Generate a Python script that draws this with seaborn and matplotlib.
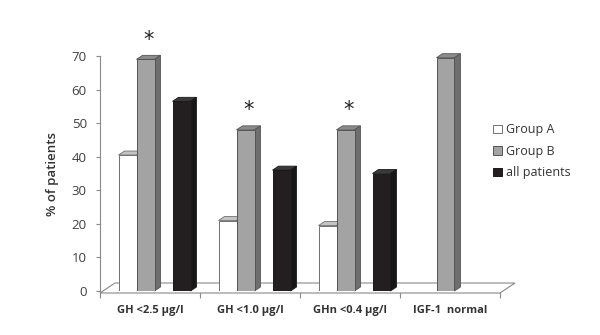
import numpy as np
import pandas as pd
import matplotlib
matplotlib.use("Agg")
import matplotlib.pyplot as plt
import seaborn as sns
from matplotlib.patches import Polygon, Patch

# ---------------- data ----------------
categories = ["GH <2.5 µg/l", "GH <1.0 µg/l", "GHn <0.4 µg/l", "IGF-1  normal"]
group_a = [40.5, 21.0, 19.5, np.nan]
group_b = [69.0, 48.0, 48.0, 69.5]
all_patients = [56.5, 36.0, 35.0, np.nan]
significant = [True, True, True, False]
series_names = ["Group A", "Group B", "all patients"]
y_ticks = [0, 10, 20, 30, 40, 50, 60, 70]

# ---------------- style ----------------
sns.set_theme(style="white")
plt.rcParams["font.family"] = ["Open Sans", "DejaVu Sans"]

front = {"Group A": "#ffffff", "Group B": "#a3a3a3", "_gap": "#ffffff", "all patients": "#231f20"}
top_c = {"Group A": "#c4c4c4", "Group B": "#8c8c8c", "all patients": "#3a3a3a"}
side_c = {"Group A": "#a8a8a8", "Group B": "#6e6e6e", "all patients": "#161616"}
edge_c = {"Group A": "#707070", "Group B": "#555555", "all patients": "#1a1a1a"}
hue_order = ["Group A", "Group B", "_gap", "all patients"]

rows = []
for i, cat in enumerate(categories):
    for name, vals in zip(series_names, [group_a, group_b, all_patients]):
        rows.append({"category": cat, "idx": i, "series": name, "value": vals[i]})
df = pd.DataFrame(rows)
shift = 0.045
df["pos"] = df["idx"] + shift
df = df.dropna(subset=["value"])

fig = plt.figure(figsize=(6.0, 3.35), dpi=100)
ax = fig.add_axes([100 / 600, 1 - 291 / 335, 400 / 600, 235 / 335])

sns.barplot(data=df, x="pos", y="value", hue="series", hue_order=hue_order,
            palette=front, native_scale=True, width=0.72, dodge=True,
            legend=False, ax=ax, linewidth=0.7, edgecolor="#555555", saturation=1)

ax.set_xlim(-0.5, 3.5)
ax.set_ylim(0, 70)

# pixel -> data conversions
px_x = 4.0 / 400
px_y = 70.0 / 235
dx, dy = 6 * px_x, 4 * px_y

bars = list(ax.patches)
zbase = {"Group A": 2, "Group B": 3, "all patients": 4}
b_centers = {}
for p in bars:
    fc = matplotlib.colors.to_hex(p.get_facecolor())
    name = None
    for n in series_names:
        if matplotlib.colors.to_hex(front[n]) == fc:
            name = n
    if name is None or p.get_height() <= 0:
        continue
    x0, w, h = p.get_x(), p.get_width(), p.get_height()
    z = zbase[name]
    p.set_zorder(z)
    p.set_edgecolor(edge_c[name])
    topf = Polygon([(x0, h), (x0 + dx, h + dy), (x0 + w + dx, h + dy), (x0 + w, h)],
                   closed=True, facecolor=top_c[name], edgecolor=edge_c[name],
                   linewidth=0.6, zorder=z - 0.5, clip_on=False)
    sidef = Polygon([(x0 + w, 0), (x0 + w, h), (x0 + w + dx, h + dy), (x0 + w + dx, dy)],
                    closed=True, facecolor=side_c[name], edgecolor=edge_c[name],
                    linewidth=0.6, zorder=z - 0.5, clip_on=False)
    ax.add_patch(topf)
    ax.add_patch(sidef)
    if name == "Group B":
        b_centers[int(round(x0 + w / 2 - shift + 0.09))] = (x0 + w / 2 + dx / 2, h)

# floor
fy0 = -2 * px_y
fdx, fdy = 15 * px_x, 10 * px_y
floor = Polygon([(-0.5, fy0), (3.5, fy0), (3.5 + fdx, fy0 + fdy), (-0.5 + fdx, fy0 + fdy)],
                closed=True, facecolor="white", edgecolor="#8a8a8a", linewidth=0.8,
                zorder=1, clip_on=False)
ax.add_patch(floor)

# significance asterisks
for i, sig in enumerate(significant):
    if sig and i in b_centers:
        cx, h = b_centers[i]
        ax.text(cx, h + 5.8, "*", ha="center", va="center", fontsize=15,
                color="#222222", family="DejaVu Sans")

# axes styling
for s in ["top", "right", "bottom"]:
    ax.spines[s].set_visible(False)
ax.spines["left"].set_color("#8a8a8a")
ax.spines["left"].set_linewidth(0.8)
ax.set_yticks(y_ticks)
ax.tick_params(axis="y", left=True, length=3, width=0.8, color="#8a8a8a",
               labelsize=9.5, labelcolor="#404040", pad=6.5)
ax.set_xticks(range(len(categories)))
ax.set_xticklabels(categories, fontsize=8, fontweight="bold", color="#333333")
ax.set_xticks([i + 0.5 for i in range(-1, len(categories))], minor=True)
ax.tick_params(axis="x", which="major", length=0, pad=10)
ax.tick_params(axis="x", which="minor", bottom=True, length=5, width=0.8, color="#8a8a8a")
ax.set_xlabel("")
ax.set_ylabel("% of patients", fontsize=9.5, fontweight="semibold", color="#333333", labelpad=9)

handles = [Patch(facecolor=front[n], edgecolor=edge_c[n], linewidth=0.7) for n in series_names]
fig.legend(handles, series_names, loc="upper left", bbox_to_anchor=(482 / 600, 1 - 112 / 335),
           frameon=False, fontsize=9, handlelength=0.7, handleheight=0.7,
           handletextpad=0.35, labelspacing=0.68, labelcolor="#333333")

fig.savefig("out.png", dpi=100, facecolor="white")
